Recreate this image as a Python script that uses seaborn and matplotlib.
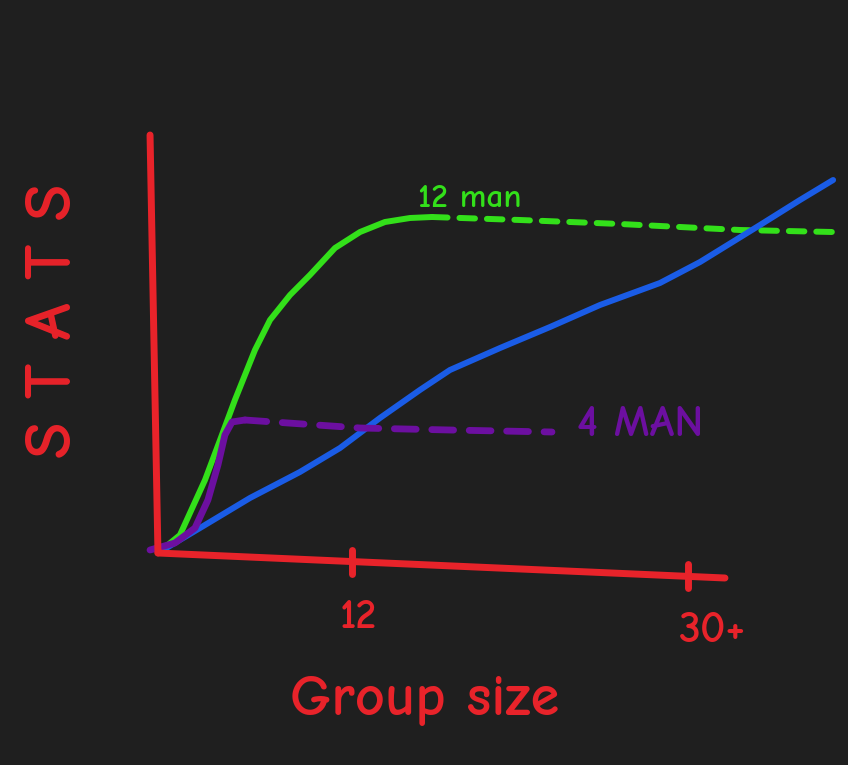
import numpy as np
import pandas as pd
import matplotlib
matplotlib.use("Agg")
import matplotlib.pyplot as plt
import seaborn as sns

# hand drawn sketch: group size (x) vs stats (y)
green_x = [0, 1.36, 2.91, 3.84, 4.76, 6.0, 6.93, 8.17, 9.40, 10.95, 12.5, 14.04, 15.59, 16.95]
green_y = [0, 4.5, 18.25, 28.25, 38.25, 50.75, 58.25, 64.5, 69.5, 76.25, 80.25, 82.75, 83.75, 84]
green_dash_x = [16.95, 22.4, 28.6, 36.0, 41.7]
green_dash_y = [84, 83.25, 82.25, 80.75, 80.25]

blue_x = [0, 2.6, 5.69, 8.78, 11.26, 13.73, 16.2, 18.06, 21.16, 24.25, 27.34, 31.05, 33.53, 37.24, 39.71, 41.76]
blue_y = [0, 6.25, 13.75, 20.25, 26.25, 33.75, 40.75, 45.75, 51.25, 56.5, 62, 67.5, 72.75, 82, 88.25, 93.25]

purple_x = [-0.49, 1.05, 2.29, 3.09, 3.71, 4.14, 4.58, 5.38]
purple_y = [0.75, 2.5, 6.25, 13.25, 22, 29.5, 32.75, 33.25]
purple_dash_x = [5.38, 12.5, 18.06, 24.37]
purple_dash_y = [33.25, 31.25, 30.75, 30.25]

tick_labels = ["12", "30+"]
tick_pos = [12, 32.8]

bg = "#1f1f1f"
red = "#e8232a"
green = "#33e01a"
blue = "#1a5ce6"
purple = "#6c0fa0"

sns.set_theme(style="dark")
plt.rcParams["font.family"] = ["Comic Neue", "Humor Sans", "DejaVu Sans"]

fig = plt.figure(figsize=(8.48, 7.65), dpi=100, facecolor=bg)
ax = fig.add_axes([0, 0, 1, 1])
ax.set_facecolor(bg)
ax.set_xlim(-9.77, 42.68)
ax.set_ylim(-53, 138.25)
ax.axis("off")

lw = 4.3
sns.lineplot(x=green_x, y=green_y, ax=ax, color=green, lw=lw, sort=False,
             solid_capstyle="round")
ax.plot(green_dash_x, green_dash_y, color=green, lw=lw, ls=(0, (2.6, 2.0)),
        dash_capstyle="round")
sns.lineplot(x=blue_x, y=blue_y, ax=ax, color=blue, lw=lw, sort=False,
             solid_capstyle="round")
sns.lineplot(x=purple_x, y=purple_y, ax=ax, color=purple, lw=lw + 0.6, sort=False,
             solid_capstyle="round")
ax.plot(purple_dash_x, purple_dash_y, color=purple, lw=lw + 0.6, ls=(0, (3.2, 2.3)),
        dash_capstyle="round")

# axes drawn by hand
ax.plot([-0.49, 0], [104.5, 0], color=red, lw=5, solid_capstyle="round")
ax.plot([0, 35.07], [0, -6.25], color=red, lw=5, solid_capstyle="round")
for tx in tick_pos:
    yb = -tx * 6.25 / 35.07
    ax.plot([tx, tx], [yb + 3, yb - 3], color=red, lw=5, solid_capstyle="round")
ax.text(12.4, -16, tick_labels[0], color=red, fontsize=30, fontweight="bold",
        ha="center", va="center")
ax.text(34.3, -19.5, tick_labels[1], color=red, fontsize=32, fontweight="bold",
        ha="center", va="center")

ax.text(-6.4, 58, "S T A T S", color=red, fontsize=48, fontweight="bold",
        rotation=90, ha="center", va="center")
ax.text(16.5, -37, "Group size", color=red, fontsize=42, fontweight="bold",
        ha="center", va="center")
ax.text(19.3, 88.5, "12 man", color=green, fontsize=24, ha="center", va="center",
        fontweight="bold")
ax.text(29.8, 32, "4 MAN", color=purple, fontsize=32, ha="center", va="center",
        fontweight="bold")

fig.savefig("out.png", dpi=100, facecolor=bg)
